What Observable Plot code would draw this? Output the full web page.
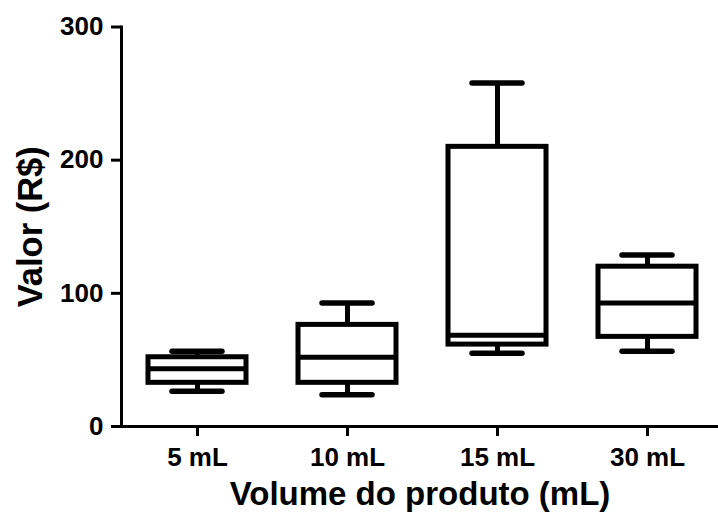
<!DOCTYPE html>
<html>
<head>
<meta charset="utf-8">
<script src="https://cdn.jsdelivr.net/npm/d3@7"></script>
<script src="https://cdn.jsdelivr.net/npm/@observablehq/plot@0.6"></script>
<style>
  html, body { margin: 0; padding: 0; background: #fff; }
  svg { font-family: "Liberation Sans", Arial, sans-serif; }
</style>
</head>
<body>
<div id="chart"></div>
<script>
const categories = ["5 mL", "10 mL", "15 mL", "30 mL"];
const minValues    = [26.5, 23.8, 55.0, 56.5];
const q1Values     = [32.8, 32.8, 61.5, 67.3];
const medianValues = [43.3, 52.0, 68.5, 92.8];
const q3Values     = [52.0, 76.3, 210.0, 120.0];
const maxValues    = [56.5, 92.8, 258.0, 128.8];
const yTicks = [0, 100, 200, 300];
const xTitle = "Volume do produto (mL)";
const yTitle = "Valor (R$)";

const data = categories.map((c, i) => ({
  cat: c, min: minValues[i], q1: q1Values[i], med: medianValues[i], q3: q3Values[i], max: maxValues[i]
}));

const chart = Plot.plot({
  width: 718,
  height: 517,
  marginLeft: 121,
  marginRight: 0,
  marginTop: 26.5,
  marginBottom: 91,
  style: {fontFamily: "'Liberation Sans', Arial, sans-serif", color: "black", background: "white"},
  x: {domain: categories, range: [122, 722], padding: 0, label: null},
  y: {domain: [0, 300], label: null},
  marks: [
    // whiskers
    Plot.ruleX(data, {x: "cat", y1: "q3", y2: "max", stroke: "black", strokeWidth: 5}),
    Plot.ruleX(data, {x: "cat", y1: "min", y2: "q1", stroke: "black", strokeWidth: 5}),
    // caps
    Plot.tickY(data, {x: "cat", y: "max", inset: 50, stroke: "black", strokeWidth: 5.5, strokeLinecap: "round"}),
    Plot.tickY(data, {x: "cat", y: "min", inset: 50, stroke: "black", strokeWidth: 5.5, strokeLinecap: "round"}),
    // box
    Plot.rectY(data, {x: "cat", y1: "q1", y2: "q3", insetLeft: 26, insetRight: 26, fill: "white", stroke: "black", strokeWidth: 5, strokeLinejoin: "miter"}),
    // median
    Plot.tickY(data, {x: "cat", y: "med", inset: 26, stroke: "black", strokeWidth: 5}),
    // axes
    Plot.frame({anchor: "left", stroke: "black", strokeWidth: 3}),
    Plot.ruleY([0], {stroke: "black", strokeWidth: 3}),
    Plot.axisY({ticks: yTicks, tickSize: 10, tickPadding: 8, fontSize: 26, fontWeight: "bold", strokeWidth: 3, label: null, tickFormat: d => String(d)}),
    Plot.axisX({tickSize: 10, tickPadding: 11, fontSize: 26, fontWeight: "bold", strokeWidth: 3, label: null}),
    // titles
    Plot.text([xTitle], {frameAnchor: "bottom", dy: 68, text: d => d, fontSize: 33, fontWeight: "bold", lineAnchor: "middle", textAnchor: "middle", fill: "black"}),
    Plot.text([yTitle], {frameAnchor: "left", dx: -91, rotate: -90, text: d => d, fontSize: 34.5, fontWeight: "bold", lineAnchor: "middle", textAnchor: "middle", fill: "black"})
  ]
});
document.getElementById("chart").appendChild(chart);
</script>
</body>
</html>
